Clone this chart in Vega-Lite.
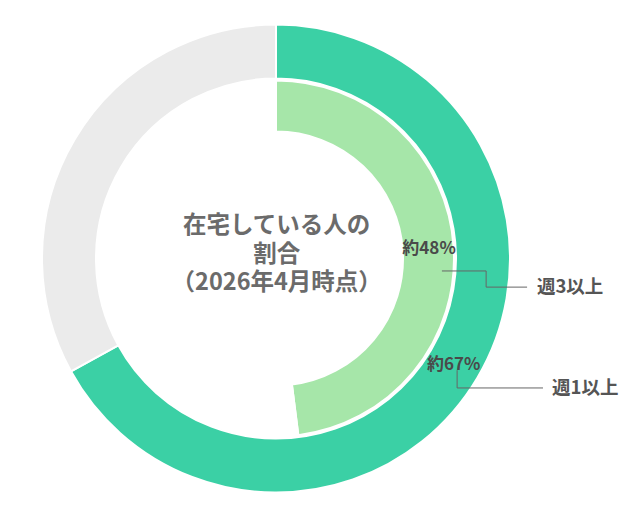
{
  "$schema": "https://vega.github.io/schema/vega-lite/v6.json",
  "width": 638,
  "height": 519,
  "padding": 0,
  "autosize": {"type": "fit", "contains": "padding"},
  "background": "white",
  "config": {"view": {"stroke": null}},
  "datasets": {
    "rings": [
      {"ring": "outer", "category": "週1以上", "value": 67, "order": 1},
      {"ring": "outer", "category": "週1未満", "value": 33, "order": 2},
      {"ring": "inner", "category": "週3以上", "value": 48, "order": 1},
      {"ring": "inner", "category": "週3未満", "value": 52, "order": 2}
    ],
    "leaders": [
      {"line": "週3以上", "step": 1, "x": 70.9, "y": -5.3},
      {"line": "週3以上", "step": 2, "x": 89.8, "y": -5.3},
      {"line": "週3以上", "step": 3, "x": 89.8, "y": -12.2},
      {"line": "週3以上", "step": 4, "x": 107.3, "y": -12.2},
      {"line": "週1以上", "step": 1, "x": 77.4, "y": -47.7},
      {"line": "週1以上", "step": 2, "x": 77.4, "y": -55.3},
      {"line": "週1以上", "step": 3, "x": 114.1, "y": -55.3}
    ],
    "labels": [
      {"kind": "value", "text": "約48%", "x": 65.4, "y": 4.1},
      {"kind": "value", "text": "約67%", "x": 75.9, "y": -45.5},
      {"kind": "name", "text": "週3以上", "x": 111.5, "y": -12.2},
      {"kind": "name", "text": "週1以上", "x": 118.0, "y": -55.3}
    ],
    "center": [
      {"text": "在宅している人の\n割合\n（2026年4月時点）", "x": 0.3, "y": 13.9}
    ]
  },
  "encoding": {
    "x": {"type": "quantitative", "scale": {"domain": [-117.95, 154.7], "nice": false, "zero": false}, "axis": null},
    "y": {"type": "quantitative", "scale": {"domain": [-111.3, 110.5], "nice": false, "zero": false}, "axis": null}
  },
  "layer": [
    {
      "data": {"name": "rings"},
      "transform": [{"filter": "datum.ring == 'outer'"}],
      "mark": {"type": "arc", "outerRadius": 234, "innerRadius": 180, "stroke": "white", "strokeWidth": 2},
      "encoding": {
        "x": {"datum": 0, "type": "quantitative"},
        "y": {"datum": 0, "type": "quantitative"},
        "theta": {"field": "value", "type": "quantitative", "stack": true, "scale": {"domain": [0, 100]}},
        "order": {"field": "order", "type": "quantitative"},
        "color": {
          "field": "category", "type": "nominal", "legend": null,
          "scale": {"domain": ["週1以上", "週1未満", "週3以上", "週3未満"], "range": ["#3bd0a5", "#ebebeb", "#a6e6a9", "rgba(255,255,255,0)"]}
        }
      }
    },
    {
      "data": {"name": "rings"},
      "transform": [{"filter": "datum.ring == 'inner'"}],
      "mark": {"type": "arc", "outerRadius": 178, "innerRadius": 127, "stroke": "white", "strokeWidth": 2},
      "encoding": {
        "x": {"datum": 0, "type": "quantitative"},
        "y": {"datum": 0, "type": "quantitative"},
        "theta": {"field": "value", "type": "quantitative", "stack": true, "scale": {"domain": [0, 100]}},
        "order": {"field": "order", "type": "quantitative"},
        "color": {"field": "category", "type": "nominal", "legend": null}
      }
    },
    {
      "data": {"name": "leaders"},
      "mark": {"type": "line", "color": "#666666", "strokeWidth": 1, "interpolate": "linear"},
      "encoding": {
        "x": {"field": "x", "type": "quantitative"},
        "y": {"field": "y", "type": "quantitative"},
        "detail": {"field": "line"},
        "order": {"field": "step", "type": "quantitative"}
      }
    },
    {
      "data": {"name": "labels"},
      "transform": [{"filter": "datum.kind == 'value'"}],
      "mark": {"type": "text", "font": "Noto Sans CJK JP", "fontWeight": "bold", "fontSize": 17, "color": "#4a4a4a", "align": "center", "baseline": "middle"},
      "encoding": {
        "x": {"field": "x", "type": "quantitative"},
        "y": {"field": "y", "type": "quantitative"},
        "text": {"field": "text"}
      }
    },
    {
      "data": {"name": "labels"},
      "transform": [{"filter": "datum.kind == 'name'"}],
      "mark": {"type": "text", "font": "Noto Sans CJK JP", "fontWeight": "bold", "fontSize": 18.5, "color": "#555555", "align": "left", "baseline": "middle"},
      "encoding": {
        "x": {"field": "x", "type": "quantitative"},
        "y": {"field": "y", "type": "quantitative"},
        "text": {"field": "text"}
      }
    },
    {
      "data": {"name": "center"},
      "mark": {"type": "text", "font": "Noto Sans CJK JP", "fontWeight": "bold", "fontSize": 23.5, "color": "#6b6b6b", "align": "center", "baseline": "middle", "lineBreak": "\n", "lineHeight": 28.5},
      "encoding": {
        "x": {"field": "x", "type": "quantitative"},
        "y": {"field": "y", "type": "quantitative"},
        "text": {"field": "text"}
      }
    }
  ]
}
